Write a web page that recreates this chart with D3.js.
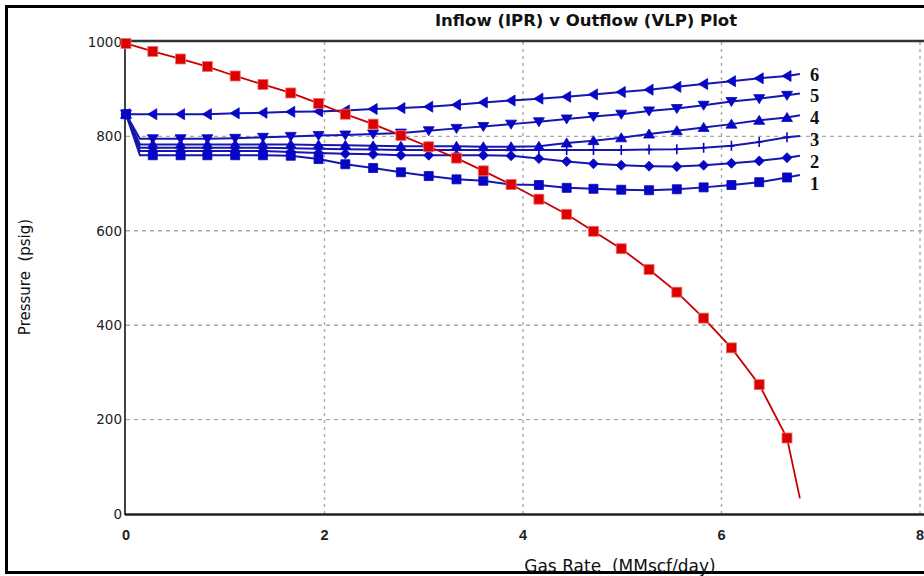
<!DOCTYPE html>
<html>
<head>
<meta charset="utf-8">
<script src="https://cdn.jsdelivr.net/npm/d3@7/dist/d3.min.js"></script>
<style>
  body { margin: 0; background: #fff; }
  svg { display: block; }
  text { white-space: pre; }
</style>
</head>
<body>
<svg id="chart" width="924" height="576"></svg>
<script>
// Gas rates (MMscf/day) at which the outflow (VLP) curves are tabulated
const vlpRates = [0, 0.14, 0.27, 0.55, 0.82, 1.10, 1.38, 1.66, 1.94, 2.21, 2.49, 2.77, 3.05,
                  3.33, 3.60, 3.88, 4.16, 4.44, 4.71, 4.99, 5.27, 5.55, 5.82, 6.10, 6.38, 6.66, 6.79];

// Outflow pressures (psig), one array per VLP sensitivity case
const vlp1 = [847, 760, 760, 760, 760, 760, 760, 759, 752, 741, 733, 724, 716, 709, 706, 698, 697, 691, 689, 687, 686, 688, 692, 697, 703, 713, 718];
const vlp2 = [847, 769, 769, 769, 769, 769, 769, 767, 765, 763, 762, 760, 760, 760, 760, 759, 753, 747, 742, 739, 737, 736, 739, 743, 748, 755, 759];
const vlp3 = [847, 776, 776, 776, 776, 776, 776, 775, 774, 773, 772, 771, 771, 771, 771, 771, 771, 771, 771, 771, 772, 773, 776, 780, 788, 798, 801];
const vlp4 = [847, 783, 783, 783, 783, 783, 783, 783, 782, 781, 780, 779, 779, 779, 778, 778, 779, 786, 791, 797, 805, 812, 819, 826, 834, 840, 845];
const vlp5 = [847, 795, 795, 795, 795, 796, 798, 800, 802, 803, 805, 807, 812, 817, 821, 826, 831, 837, 842, 847, 854, 859, 866, 874, 880, 887, 891];
const vlp6 = [847, 847, 847, 847, 847, 849, 850, 852, 853, 855, 858, 860, 863, 867, 872, 876, 880, 884, 889, 894, 899, 905, 911, 917, 923, 928, 932];
const vlpLabels = ["1", "2", "3", "4", "5", "6"];

// Inflow (IPR) curve
const iprRates = [0, 0.27, 0.55, 0.82, 1.10, 1.38, 1.66, 1.94, 2.21, 2.49, 2.77, 3.05, 3.33,
                  3.60, 3.88, 4.16, 4.44, 4.71, 4.99, 5.27, 5.55, 5.82, 6.10, 6.38, 6.66, 6.79];
const iprPressure = [997, 980, 964, 948, 928, 910, 892, 870, 847, 826, 802, 778, 754,
                     727, 698, 667, 635, 599, 562, 518, 470, 415, 352, 274, 161, 33];

// Axis ticks
const xTicks = [0, 2, 4, 6, 8];
const yTicks = [0, 200, 400, 600, 800, 1000];

const chartTitle = "Inflow (IPR) v Outflow (VLP) Plot";
const xTitle = "Gas Rate  (MMscf/day)";
const yTitle = "Pressure  (psig)";

// ---------------------------------------------------------------------------
const svg = d3.select("#chart");
const W = 924, H = 576;
const plot = { left: 126, right: 920, top: 42, bottom: 514 };

const x = d3.scaleLinear().domain([0, 8]).range([plot.left, plot.right]);
const y = d3.scaleLinear().domain([0, 1000]).range([plot.bottom, plot.top]);

const blue = "#0606c4";
const blueLine = "#1616b0";
const red = "#dc0000";

// outer frame
svg.append("rect")
  .attr("x", 6.5).attr("y", 6.5)
  .attr("width", W + 10).attr("height", 566)
  .attr("fill", "none").attr("stroke", "#000").attr("stroke-width", 3);

// title
svg.append("text")
  .attr("x", 586).attr("y", 26)
  .attr("text-anchor", "middle")
  .attr("font-family", "'DejaVu Sans', sans-serif")
  .attr("font-weight", "bold")
  .attr("font-size", 16.5)
  .attr("fill", "#111")
  .text(chartTitle);

// grid
const grid = svg.append("g").attr("stroke", "#a9a9a9").attr("stroke-width", 1.4);
grid.selectAll("line.v").data(xTicks.filter(d => d > 0)).join("line")
  .attr("class", "v")
  .attr("x1", d => x(d)).attr("x2", d => x(d))
  .attr("y1", plot.top).attr("y2", plot.bottom)
  .attr("stroke-dasharray", "3,4");
grid.selectAll("line.h").data(yTicks.filter(d => d > 0 && d < 1000)).join("line")
  .attr("class", "h")
  .attr("x1", plot.left).attr("x2", W)
  .attr("y1", d => y(d)).attr("y2", d => y(d))
  .attr("stroke-dasharray", "4,4");

// frame lines of the plot area
svg.append("line").attr("x1", plot.left - 1).attr("x2", W)
  .attr("y1", plot.top - 1).attr("y2", plot.top - 1)
  .attr("stroke", "#333").attr("stroke-width", 2.5);
svg.append("line").attr("x1", plot.left - 1).attr("x2", W)
  .attr("y1", plot.bottom + 0.5).attr("y2", plot.bottom + 0.5)
  .attr("stroke", "#222").attr("stroke-width", 2.5);
svg.append("line").attr("x1", plot.left - 1).attr("x2", plot.left - 1)
  .attr("y1", plot.top - 1).attr("y2", plot.bottom + 1)
  .attr("stroke", "#111").attr("stroke-width", 1.6);

// y axis labels
svg.append("g").selectAll("text").data(yTicks).join("text")
  .attr("x", plot.left - 4)
  .attr("y", d => y(d))
  .attr("dy", "0.35em")
  .attr("text-anchor", "end")
  .attr("font-family", "'DejaVu Sans', sans-serif")
  .attr("font-size", 13.5)
  .attr("fill", "#222")
  .text(d => d);

// x axis labels
svg.append("g").selectAll("text").data(xTicks).join("text")
  .attr("x", d => x(d))
  .attr("y", 540)
  .attr("text-anchor", "middle")
  .attr("font-family", "'Liberation Sans', Arial, sans-serif")
  .attr("font-weight", "bold")
  .attr("font-size", 14.5)
  .attr("fill", "#222")
  .text(d => d);

// axis titles
svg.append("text")
  .attr("x", 620).attr("y", 572)
  .attr("text-anchor", "middle")
  .attr("font-family", "'DejaVu Sans', sans-serif")
  .attr("font-size", 17)
  .attr("fill", "#111")
  .text(xTitle);
svg.append("text")
  .attr("transform", "translate(30,277) rotate(-90)")
  .attr("text-anchor", "middle")
  .attr("font-family", "'DejaVu Sans', sans-serif")
  .attr("font-size", 15)
  .attr("fill", "#111")
  .text(yTitle);

// marker shapes for each VLP case
const shapes = {
  square:   "M-4.5,-4.5H4.5V4.5H-4.5Z",
  diamond:  "M0,-5L5,0L0,5L-5,0Z",
  plus:     "M0,-5V5M-3,0H3",
  triUp:    "M0,-5L5.5,4L-5.5,4Z",
  triDown:  "M0,5L5.5,-4L-5.5,-4Z",
  triLeft:  "M-5,0L4,-5.5L4,5.5Z"
};
const vlpSeries = [
  { label: vlpLabels[0], values: vlp1, shape: "square" },
  { label: vlpLabels[1], values: vlp2, shape: "diamond" },
  { label: vlpLabels[2], values: vlp3, shape: "plus" },
  { label: vlpLabels[3], values: vlp4, shape: "triUp" },
  { label: vlpLabels[4], values: vlp5, shape: "triDown" },
  { label: vlpLabels[5], values: vlp6, shape: "triLeft" }
];

const line = d3.line().x(d => x(d[0])).y(d => y(d[1]));

// case labels sit at the curve ends, pushed apart so they never collide
const labelGap = 21.8;
const labelY = {};
let prev = -Infinity;
vlpSeries.slice().reverse().forEach(s => {
  let ly = y(s.values[s.values.length - 1]);
  if (ly < prev + labelGap) ly = prev + labelGap;
  labelY[s.label] = ly;
  prev = ly;
});

// draw case 6 first so case 1 ends on top
vlpSeries.slice().reverse().forEach(s => {
  const pts = vlpRates.map((r, i) => [r, s.values[i]]);
  const g = svg.append("g");
  g.append("path").attr("d", line(pts))
    .attr("fill", "none").attr("stroke", blueLine).attr("stroke-width", 2);
  // markers at every tabulated rate except the bend point and the end point
  const marked = pts.filter((p, i) => i !== 1 && i !== pts.length - 1);
  g.selectAll("path.m").data(marked).join("path")
    .attr("class", "m")
    .attr("transform", d => `translate(${x(d[0])},${y(d[1])})`)
    .attr("d", shapes[s.shape])
    .attr("fill", s.shape === "plus" ? "none" : blue)
    .attr("stroke", blue)
    .attr("stroke-width", s.shape === "plus" ? 1.6 : 0.8);
  const last = pts[pts.length - 1];
  svg.append("text")
    .attr("x", x(last[0]) + 10)
    .attr("y", labelY[s.label])
    .attr("dy", "0.35em")
    .attr("font-family", "'Liberation Serif', 'Times New Roman', serif")
    .attr("font-weight", "bold")
    .attr("font-size", 18.5)
    .attr("fill", "#111")
    .text(s.label);
});

// inflow curve on top
const ipr = iprRates.map((r, i) => [r, iprPressure[i]]);
svg.append("path").attr("d", line(ipr))
  .attr("fill", "none").attr("stroke", "#c80000").attr("stroke-width", 1.8);
svg.selectAll("rect.ipr").data(ipr.slice(0, -1)).join("rect")
  .attr("class", "ipr")
  .attr("x", d => x(d[0]) - 5).attr("y", d => y(d[1]) - 5)
  .attr("width", 10).attr("height", 10)
  .attr("fill", red).attr("stroke", "#f07070").attr("stroke-width", 0.8);
</script>
</body>
</html>
